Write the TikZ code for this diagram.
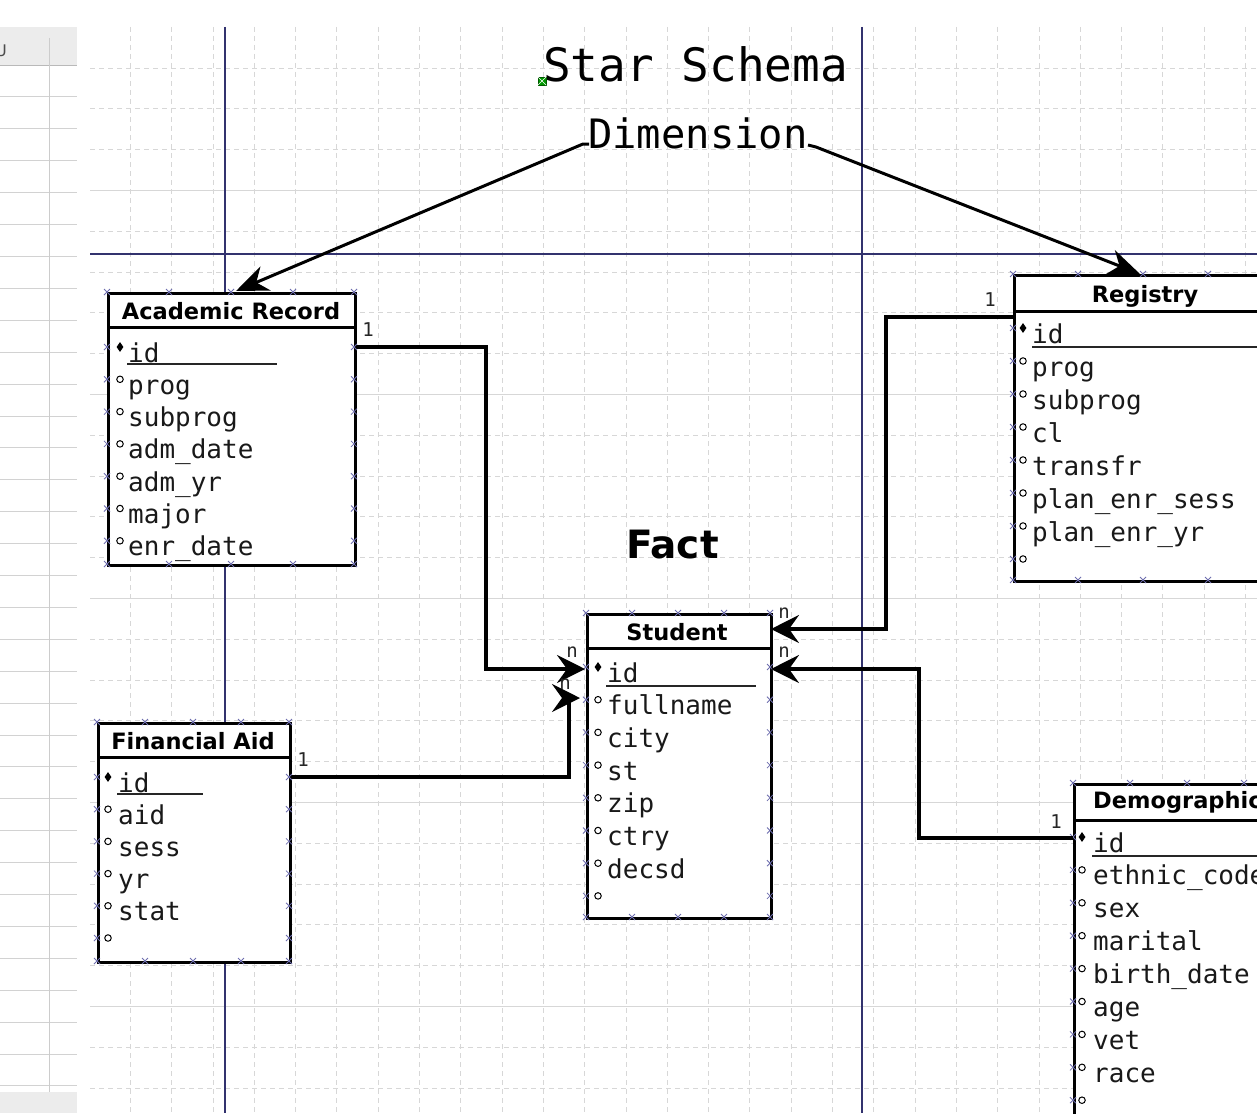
\documentclass[tikz,border=0pt]{standalone}
\usepackage{fontspec}
\newfontfamily\dmono{DejaVu Sans Mono}
\newfontfamily\dsans{DejaVu Sans}
\usetikzlibrary{arrows.meta,shapes.geometric}
\definecolor{pagebrk}{RGB}{50,50,110}
\definecolor{gridc}{RGB}{215,215,215}
\definecolor{cpc}{RGB}{110,110,175}
\newcommand{\cpmark}[2]{\draw[cp] ({#1-3},{#2-3}) -- ({#1+3},{#2+3}) ({#1-3},{#2+3}) -- ({#1+3},{#2-3});}
\begin{document}
\begin{tikzpicture}[x=1pt,y=-1pt,
  tbox/.style={draw=black, fill=white, line width=3.2pt, inner sep=0pt},
  tline/.style={line width=3pt},
  uline/.style={line width=1.5pt, black!85},
  attr/.style={anchor=base west, inner sep=0pt, font=\dmono\fontsize{26}{26}\selectfont, text=black!90},
  ttl/.style={anchor=base, inner sep=0pt, font=\dsans\bfseries\fontsize{22.5}{22.5}\selectfont},
  pk/.style={diamond, fill=black, inner sep=0pt, minimum width=7pt, minimum height=10pt},
  fk/.style={circle, draw=black, line width=1pt, inner sep=0pt, minimum size=6.5pt},
  conn/.style={line width=3.4pt, -{Stealth[length=28pt,width=28pt,inset=10pt]}},
  dconn/.style={line width=3pt, -{Stealth[length=32pt,width=26pt,inset=10pt]}},
  card/.style={font=\dmono\fontsize{19}{19}\selectfont, inner sep=0pt, text=black!85},
  cp/.style={draw=cpc, line width=0.8pt}]
\useasboundingbox (0,0) rectangle (1257,1113);
\clip (0,0) rectangle (1257,1113);
\fill[white] (0,0) rectangle (1257,1113);
% spreadsheet strip
\fill[gray!15] (0,27) rectangle (77,65);
\draw[gray!55, line width=0.9pt] (0,65) -- (77,65);
\foreach \k in {1,...,32} \draw[gray!35, line width=0.8pt] (0,{65+31.9*\k}) -- (77,{65+31.9*\k});
\draw[gray!40, line width=0.8pt] (49,38) -- (49,1092);
\fill[gray!15] (0,1092) rectangle (77,1113);
\node[anchor=base west, inner sep=0pt, font=\dsans\fontsize{16}{16}\selectfont, text=gray!60!black] (colU) at (-5,57) {U};
% grid
\begin{scope}
\clip (90,27) rectangle (1257,1113);
\foreach \i in {0,...,29} \draw[gridc, line width=0.8pt, dash pattern=on 5pt off 4pt] ({89+41.3*\i},27) -- ({89+41.3*\i},1113);
\foreach \k in {0,1,2,4,5,6,7,9,10,11,12,14,15,16,17,19,20,21,22,24,25} \draw[gridc, line width=0.8pt, dash pattern=on 5pt off 4pt] (90,{68+40.8*\k}) -- (1257,{68+40.8*\k});
\foreach \k in {3,8,13,18,23} \draw[gridc, line width=0.9pt] (90,{68+40.8*\k}) -- (1257,{68+40.8*\k});
\end{scope}
% page breaks
\draw[pagebrk, line width=1.5pt] (225,27) -- (225,1113);
\draw[pagebrk, line width=1.5pt] (862,27) -- (862,1113);
\draw[pagebrk, line width=1.5pt] (90,254) -- (1257,254);
% titles
\node[anchor=base west, inner sep=0pt, font=\dmono\fontsize{46}{46}\selectfont] (title) at (543,82) {Star Schema};
\node[anchor=base west, inner sep=0pt, font=\dmono\fontsize{40.5}{40.5}\selectfont] (dim) at (588,148) {Dimension};
\node[anchor=base west, inner sep=0pt, font=\dsans\bfseries\fontsize{39}{39}\selectfont] (fact) at (626,558) {Fact};
\node[draw=green!35!black, fill=green!60!black, line width=0.6pt, minimum size=8pt, inner sep=0pt] (handle) at (542,81) {};
\draw[white, line width=0.5pt] (handle.north west) -- (handle.south east) (handle.north east) -- (handle.south west);

% ---------- Academic Record
\node[tbox, minimum width=247, minimum height=272, anchor=north west] (acad) at (107,292) {};
\draw[tline] (107,327) -- (354,327);
\node[ttl] (acadT) at (231,319) {Academic Record};
\node[attr] (acad-id) at (128,362) {id};
\node[pk] (acad-pk) at (120,347) {};
\draw[uline] (127,364) -- (277,364);
\foreach \t [count=\i] in {prog,subprog,adm\_date,adm\_yr,major,enr\_date} {
  \node[attr] (acad-a\i) at (128,{362+32.3*\i}) {\t};
  \node[fk] (acad-m\i) at (120,{362+32.3*\i-15}) {};
}
\foreach \i in {0,...,6} {\cpmark{107}{362+32.3*\i-15} \cpmark{354}{362+32.3*\i-15}}
\foreach \x in {107,169,231,293,354} {\cpmark{\x}{292} \cpmark{\x}{564}}

% ---------- Financial Aid
\node[tbox, minimum width=192, minimum height=239, anchor=north west] (fin) at (97,722) {};
\draw[tline] (97,757) -- (289,757);
\node[ttl] (finT) at (193,749) {Financial Aid};
\node[attr] (fin-id) at (118,792) {id};
\node[pk] (fin-pk) at (108,777) {};
\draw[uline] (117,794) -- (203,794);
\foreach \t [count=\i] in {aid,sess,yr,stat,{}} {
  \node[attr] (fin-a\i) at (118,{792+32.2*\i}) {\t};
  \node[fk] (fin-m\i) at (108,{792+32.2*\i-15}) {};
}
\foreach \i in {0,...,5} {\cpmark{97}{792+32.2*\i-15} \cpmark{289}{792+32.2*\i-15}}
\foreach \x in {97,145,193,241,289} {\cpmark{\x}{722} \cpmark{\x}{961}}

% ---------- Student
\node[tbox, minimum width=184, minimum height=304, anchor=north west] (stu) at (586,613) {};
\draw[tline] (586,648) -- (770,648);
\node[ttl] (stuT) at (677,640) {Student};
\node[attr] (stu-id) at (607,682) {id};
\node[pk] (stu-pk) at (598,667) {};
\draw[uline] (606,686) -- (756,686);
\foreach \t [count=\i] in {fullname,city,st,zip,ctry,decsd,{}} {
  \node[attr] (stu-a\i) at (607,{682+32.7*\i}) {\t};
  \node[fk] (stu-m\i) at (598,{682+32.7*\i-15}) {};
}
\foreach \i in {0,...,7} {\cpmark{586}{682+32.7*\i-15} \cpmark{770}{682+32.7*\i-15}}
\foreach \x in {586,632,678,724,770} {\cpmark{\x}{613} \cpmark{\x}{917}}

% ---------- Registry
\node[tbox, minimum width=300, minimum height=306, anchor=north west] (reg) at (1013,274) {};
\draw[tline] (1013,311) -- (1313,311);
\node[ttl] (regT) at (1145,302) {Registry};
\node[attr] (reg-id) at (1032,343) {id};
\node[pk] (reg-pk) at (1023,328) {};
\draw[uline] (1032,347) -- (1300,347);
\foreach \t [count=\i] in {prog,subprog,cl,transfr,plan\_enr\_sess,plan\_enr\_yr,{}} {
  \node[attr] (reg-a\i) at (1032,{343+33*\i}) {\t};
  \node[fk] (reg-m\i) at (1023,{343+33*\i-15}) {};
}
\foreach \i in {0,...,7} {\cpmark{1013}{343+33*\i-15}}
\foreach \x in {1013,1078,1143,1208} {\cpmark{\x}{274} \cpmark{\x}{580}}

% ---------- Demographic
\node[tbox, minimum width=300, minimum height=400, anchor=north west] (dem) at (1073,783) {};
\draw[tline] (1073,820) -- (1373,820);
\node[ttl, anchor=base west] (demT) at (1093,808) {Demographic};
\node[attr] (dem-id) at (1093,852) {id};
\node[pk] (dem-pk) at (1082,837) {};
\draw[uline] (1092,856) -- (1300,856);
\foreach \t [count=\i] in {ethnic\_code,sex,marital,birth\_date,age,vet,race,{}} {
  \node[attr] (dem-a\i) at (1093,{852+32.9*\i}) {\t};
  \node[fk] (dem-m\i) at (1082,{852+32.9*\i-15}) {};
}
\foreach \i in {0,...,8} {\cpmark{1073}{852+32.9*\i-15}}
\foreach \x in {1073,1130,1187,1244} {\cpmark{\x}{783}}

% ---------- connectors
\coordinate (finTip) at (580,698);
\coordinate (regC) at (1013,317);
\coordinate (demC) at (1073,838);
\coordinate (stuR1) at (771,629);
\coordinate (stuR2) at (771,669);
\coordinate (stuL1) at (585,669);
\draw[conn] (acad.east |- acad-pk) -- (486,347) |- (stuL1);
\draw[conn] (fin.east |- fin-pk) -| ([xshift=-11pt]finTip) -- (finTip);
\draw[conn] (regC) -- (886,317) |- (stuR1);
\draw[conn] (demC) -- (919,838) |- (stuR2);
\node[card] (c1a) at (368,330) {1};
\node[card] (c1b) at (572,652) {n};
\node[card] (c2a) at (303,760) {1};
\node[card] (c2b) at (565,684) {n};
\node[card] (c3a) at (990,300) {1};
\node[card] (c3b) at (784,613) {n};
\node[card] (c4a) at (1056,822) {1};
\node[card] (c4b) at (784,652) {n};
% dimension arrows
\coordinate (dimL) at (589,144);
\coordinate (dimR) at (808,145);
\coordinate (acadTop) at (236,291);
\coordinate (regTop) at (1140,274);
\draw[dconn] (dimL) -- ++(-6,0) -- (acadTop);
\draw[dconn] (dimR) -- ++(8,2) -- (regTop);
\end{tikzpicture}
\end{document}
